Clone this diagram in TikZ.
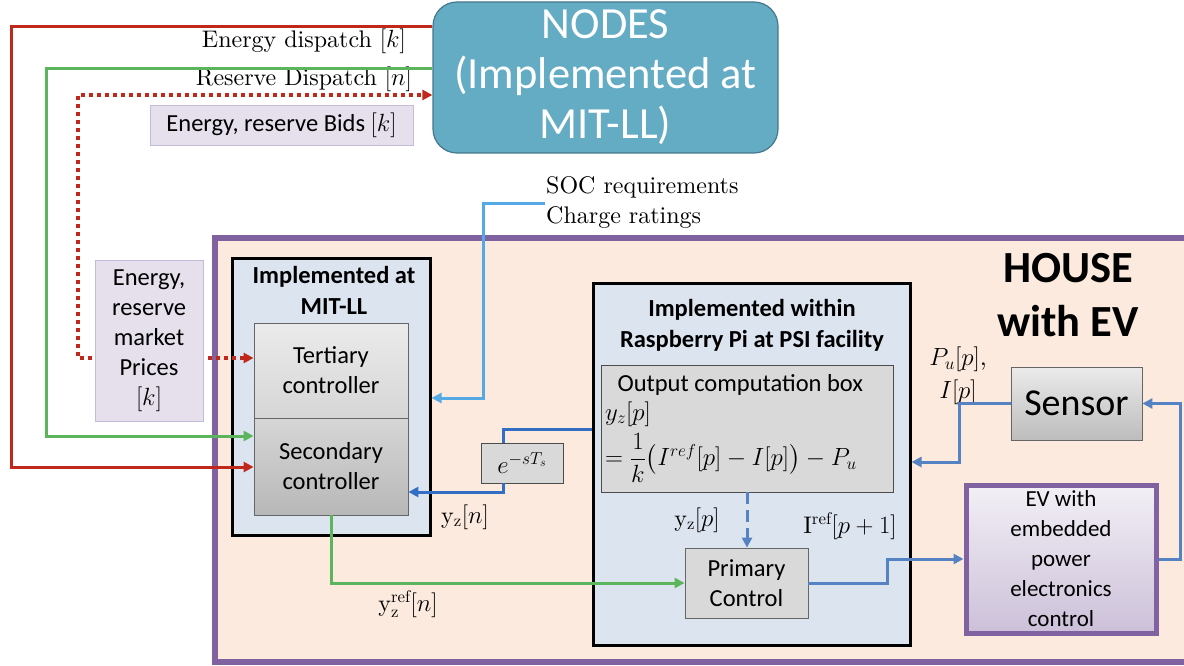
\documentclass[tikz,border=0pt]{standalone}
\usepackage{amsmath}
\usepackage{fontspec}
\setmainfont{lmroman10-regular.otf}[ItalicFont=lmroman10-italic.otf, BoldFont=lmroman10-bold.otf]
\setsansfont{Carlito}
\usetikzlibrary{arrows.meta}
\definecolor{nodeteal}{RGB}{100,171,196}
\definecolor{nodeedge}{RGB}{68,120,140}
\definecolor{lavfill}{RGB}{229,224,236}
\definecolor{lavedge}{RGB}{196,186,218}
\definecolor{housefill}{RGB}{251,234,221}
\definecolor{houseedge}{RGB}{128,98,160}
\definecolor{ctrlfill}{RGB}{220,228,240}
\definecolor{energyred}{RGB}{192,40,28}
\definecolor{reservegreen}{RGB}{92,180,92}
\definecolor{socblue}{RGB}{85,170,230}
\definecolor{loopblue}{RGB}{50,110,195}
\definecolor{evblue}{RGB}{85,130,195}
\tikzset{
  tip/.style={-{Triangle[length=10pt,width=10pt]}},
  redline/.style={energyred, line width=3pt},
  greenline/.style={reservegreen, line width=3pt},
  reddots/.style={energyred, line width=3.5pt, dash pattern=on 4pt off 4pt},
  bluewire/.style={line width=3pt},
  lbl/.style={font=\fontsize{24}{29}\selectfont, inner sep=1pt},
  sanstxt/.style={font=\sffamily\fontsize{24.5}{30}\selectfont, align=center},
  titletxt/.style={font=\sffamily\bfseries\fontsize{24.5}{31}\selectfont, align=center},
  infobox/.style={draw=lavedge, fill=lavfill, line width=0.8pt, sanstxt},
  ctrlbox/.style={draw=black, fill=ctrlfill, line width=3pt},
  graybox/.style={draw=black!60, line width=0.8pt, sanstxt, top color=black!8, bottom color=black!26}
}
\begin{document}
\begin{tikzpicture}[x=1pt,y=-1pt]
  \useasboundingbox (0,0) rectangle (1184,666);

  % market side
  \node[fill=nodeteal, draw=nodeedge, line width=1.2pt, rounded corners=24pt,
        minimum width=345pt, minimum height=151pt, text=white, align=center,
        font=\sffamily\fontsize{44.5}{50}\selectfont] (nodes) at (605.5,77.5)
        {NODES\\(Implemented at\\MIT-LL)};
  \node[lbl, anchor=east] (edisp) at (407,41) {Energy dispatch $[k]$};
  \node[lbl, anchor=east] (rdisp) at (413,79) {Reserve Dispatch $[n]$};
  \node[infobox, minimum width=263pt, minimum height=40pt] (bids) at (281.5,125)
        {Energy, reserve Bids $[k]$};

  % house
  \node[draw=houseedge, fill=housefill, line width=6pt,
        minimum width=985pt, minimum height=424pt] (house) at (707.5,450) {};
  \node[font=\sffamily\bfseries\fontsize{44.5}{54}\selectfont, align=center] (houselbl)
        at (1068,295) {HOUSE\\with EV};

  % MIT-LL controllers
  \node[ctrlbox, minimum width=198pt, minimum height=277pt] (mitll) at (331,396.5) {};
  \node[titletxt] (mitlltitle) at (334,290) {Implemented at\\MIT-LL};
  \node[graybox, top color=black!8, bottom color=black!16,
        minimum width=154pt, minimum height=95pt] (tert) at (331,370.5)
        {Tertiary\\controller};
  \node[graybox, top color=black!16, bottom color=black!28,
        minimum width=154pt, minimum height=97pt] (sec) at (331,466.5)
        {Secondary\\controller};

  % Raspberry Pi
  \node[ctrlbox, minimum width=317pt, minimum height=362pt] (rpi) at (751.5,464) {};
  \node[titletxt] (rpititle) at (752,325) {Implemented within\\Raspberry Pi at PSI facility};
  \node[draw=black!70, fill=black!15, line width=0.8pt,
        minimum width=292pt, minimum height=127pt] (outbox) at (747,428.5) {};
  \node[sanstxt, anchor=west] (outtitle) at (614,385) {Output computation box};
  \node[anchor=west, inner sep=0pt, font=\fontsize{25}{29}\selectfont] (yzp) at (605,414) {$y_z[p]$};
  \node[anchor=west, inner sep=0pt, font=\fontsize{25}{29}\selectfont] (formula) at (605,458)
        {$=\dfrac{1}{k}\bigl(I^{ref}[p]-I[p]\bigr)-P_u$};
  \node[graybox, top color=black!15, bottom color=black!15,
        minimum width=123pt, minimum height=70pt] (primary) at (746.5,583)
        {Primary\\Control};

  \node[draw=black!70, fill=black!15, line width=0.8pt, minimum width=82pt,
        minimum height=40pt, font=\fontsize{25}{29}\selectfont] (delay) at (522,463) {$e^{-sT_s}$};

  % EV and sensor
  \node[draw=houseedge, line width=5pt, top color=houseedge!10, bottom color=houseedge!40,
        minimum width=190pt, minimum height=148pt, sanstxt, font=\sffamily\fontsize{23}{30}\selectfont]
        (ev) at (1061,559) {EV with\\embedded\\power\\electronics\\control};
  \node[graybox, font=\sffamily\fontsize{38}{40}\selectfont,
        minimum width=131pt, minimum height=73pt] (sensor) at (1076.5,403.5) {Sensor};
  \node[lbl, align=center, font=\fontsize{25}{33}\selectfont] (pulbl) at (958,376)
        {$P_u[p]$,\\$I[p]$};

  % market signals
  \draw[redline, tip] (nodes.west |- 0,27) -| (11,467) -- (sec.west |- 0,467);
  \draw[greenline, tip] (nodes.west |- 0,69) -| (46,436) -- (sec.west |- 0,436);
  \draw[reddots, {Triangle[length=10pt,width=10pt]}-{Triangle[length=10pt,width=10pt]}]
        (tert.west |- 0,358) -| (78,95) -- (nodes.west |- 0,95);
  \node[infobox, minimum width=108pt, minimum height=161pt] (prices) at (149,340.5)
        {Energy,\\reserve\\market\\Prices\\$[k]$};

  % EV data
  \node[lbl, anchor=west, align=left, font=\fontsize{24}{30}\selectfont] (soc) at (545,203)
        {SOC requirements\\Charge ratings};
  \draw[socblue, bluewire, tip] (soc.west) -- (483,203) |- (mitll.east |- 0,398);

  % measured output loop
  \draw[loopblue, bluewire] (rpi.west |- 0,429) -| (delay.north -| 503,0);
  \draw[loopblue, bluewire, tip] (delay.south -| 503,0) |- (sec.east |- 0,492);
  \node[lbl] (yzn) at (465,517) {$\mathrm{y}_{\mathrm{z}}[n]$};
  \draw[greenline, tip] (sec.south) |- (primary.west);
  \node[lbl] (yzref) at (408,604) {$\mathrm{y}_{\mathrm{z}}^{\mathrm{ref}}[n]$};
  \draw[evblue, bluewire, dash pattern=on 12pt off 6pt, tip] (outbox.south) -- (outbox.south |- primary.north);
  \node[lbl] (yzplbl) at (697,520) {$\mathrm{y}_{\mathrm{z}}[p]$};
  \draw[evblue, bluewire, tip] (primary.east) -- ++(79,0) |- (ev.west);
  \node[lbl] (irefl) at (850,526) {$\mathrm{I}^{\mathrm{ref}}[p+1]$};
  \draw[evblue, bluewire, tip] (ev.east) -- ++(22,0) |- (sensor.east);
  \draw[evblue, bluewire, tip] (sensor.west) -- ++(-51,0) |- (rpi.east |- 0,462);
\end{tikzpicture}
\end{document}
